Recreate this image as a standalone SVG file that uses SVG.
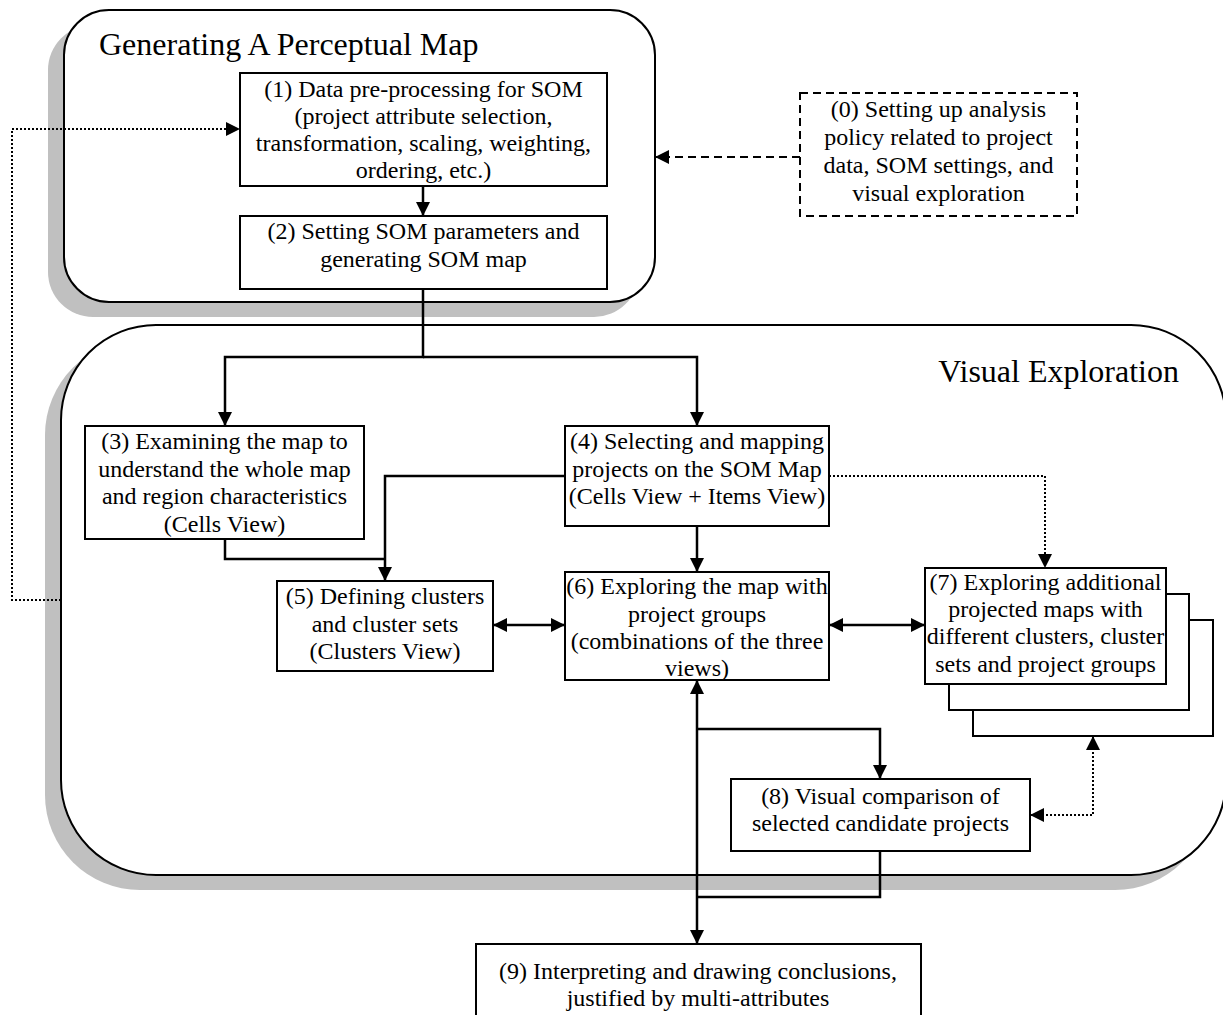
<svg xmlns="http://www.w3.org/2000/svg" width="1223" height="1015" viewBox="0 0 1223 1015">
<defs>
<marker id="ah" markerUnits="userSpaceOnUse" markerWidth="15" markerHeight="14" refX="14" refY="7" orient="auto-start-reverse" viewBox="0 0 15 14"><path d="M0,0 L14,7 L0,14 z" fill="#000"/></marker>
</defs>
<style>
.panel{fill:#fff;stroke:#000;stroke-width:2}
.shadow{fill:#c0c0c0}
.box{fill:#fff;stroke:#000;stroke-width:2}
.dbox{fill:#fff;stroke:#000;stroke-width:2;stroke-dasharray:8 5}
.t{font-family:"Liberation Serif","Times New Roman",serif;font-size:24px;text-anchor:middle;fill:#000}
.title{font-family:"Liberation Serif","Times New Roman",serif;font-size:32px;fill:#000}
.c{fill:none;stroke:#000;stroke-width:2.5}
.dot{fill:none;stroke:#000;stroke-width:2;stroke-dasharray:2 2}
.dash{fill:none;stroke:#000;stroke-width:2;stroke-dasharray:8 5}
</style>
<rect width="1223" height="1015" fill="#fff"/>

<g id="panel-generating">
<rect class="shadow" x="48" y="25" width="591" height="292" rx="45"/>
<rect class="panel" x="64" y="10" width="591" height="292" rx="45"/>
<text class="title" x="99" y="55">Generating A Perceptual Map</text>
</g>

<g id="panel-visual">
<rect class="shadow" x="45" y="340" width="1165" height="550" rx="95"/>
<rect class="panel" x="61" y="325" width="1165" height="550" rx="95"/>
<text class="title" x="1179" y="382" text-anchor="end">Visual Exploration</text>
</g>

<g id="node0">
<rect class="dbox" x="800" y="93" width="277" height="123"/>
<text class="t" x="938.5" y="117">(0) Setting up analysis</text>
<text class="t" x="938.5" y="145">policy related to project</text>
<text class="t" x="938.5" y="173">data, SOM settings, and</text>
<text class="t" x="938.5" y="201">visual exploration</text>
</g>

<g id="node1">
<rect class="box" x="240" y="73" width="367" height="113"/>
<text class="t" x="423.5" y="97">(1) Data pre-processing for SOM</text>
<text class="t" x="423.5" y="124">(project attribute selection,</text>
<text class="t" x="423.5" y="151">transformation, scaling, weighting,</text>
<text class="t" x="423.5" y="178">ordering, etc.)</text>
</g>

<g id="node2">
<rect class="box" x="240" y="216" width="367" height="73"/>
<text class="t" x="423.5" y="239">(2) Setting SOM parameters and</text>
<text class="t" x="423.5" y="267">generating SOM map</text>
</g>

<g id="node3">
<rect class="box" x="85" y="426" width="279" height="113"/>
<text class="t" x="224.5" y="449">(3) Examining the map to</text>
<text class="t" x="224.5" y="477">understand the whole map</text>
<text class="t" x="224.5" y="504">and region characteristics</text>
<text class="t" x="224.5" y="532">(Cells View)</text>
</g>

<g id="node4">
<rect class="box" x="565" y="426" width="264" height="100"/>
<text class="t" x="697" y="449">(4) Selecting and mapping</text>
<text class="t" x="697" y="477">projects on the SOM Map</text>
<text class="t" x="697" y="504">(Cells View + Items View)</text>
</g>

<g id="node5">
<rect class="box" x="277" y="581" width="216" height="90"/>
<text class="t" x="385" y="604">(5) Defining clusters</text>
<text class="t" x="385" y="632">and cluster sets</text>
<text class="t" x="385" y="659">(Clusters View)</text>
</g>

<g id="node6">
<rect class="box" x="565" y="572" width="264" height="108"/>
<text class="t" x="697" y="594">(6) Exploring the map with</text>
<text class="t" x="697" y="622">project groups</text>
<text class="t" x="697" y="649">(combinations of the three</text>
<text class="t" x="697" y="676">views)</text>
</g>

<g id="node7">
<rect class="box" x="973" y="620" width="240" height="116"/>
<rect class="box" x="949" y="594" width="240" height="116"/>
<rect class="box" x="925" y="568" width="241" height="116"/>
<text class="t" x="1045.5" y="590">(7) Exploring additional</text>
<text class="t" x="1045.5" y="617">projected maps with</text>
<text class="t" x="1045.5" y="644">different clusters, cluster</text>
<text class="t" x="1045.5" y="672">sets and project groups</text>
</g>

<g id="node8">
<rect class="box" x="731" y="779" width="299" height="72"/>
<text class="t" x="880.5" y="804">(8) Visual comparison of</text>
<text class="t" x="880.5" y="831">selected candidate projects</text>
</g>

<g id="node9">
<rect class="box" x="476" y="944" width="445" height="80"/>
<text class="t" x="698" y="979">(9) Interpreting and drawing conclusions,</text>
<text class="t" x="698" y="1006">justified by multi-attributes</text>
</g>

<g id="connectors">
<path class="c" d="M423,186 V216" marker-end="url(#ah)"/>
<path class="dash" d="M800,157 H655" marker-end="url(#ah)"/>
<path class="dot" d="M61,600 H12 V129 H240" marker-end="url(#ah)"/>
<path class="c" d="M423,289 V357 H225 V426" marker-end="url(#ah)"/>
<path class="c" d="M423,357 H697 V426" marker-end="url(#ah)"/>
<path class="c" d="M225,539 V559 H385"/>
<path class="c" d="M565,476 H385 V581" marker-end="url(#ah)"/>
<path class="c" d="M697,526 V572" marker-end="url(#ah)"/>
<path class="c" d="M493,625 H565" marker-start="url(#ah)" marker-end="url(#ah)"/>
<path class="c" d="M829,625 H925" marker-start="url(#ah)" marker-end="url(#ah)"/>
<path class="dot" d="M829,476 H1045 V568" marker-end="url(#ah)"/>
<path class="dot" d="M1093,736 V815 H1030" marker-start="url(#ah)" marker-end="url(#ah)"/>
<path class="c" d="M697,680 V944" marker-start="url(#ah)" marker-end="url(#ah)"/>
<path class="c" d="M697,729 H880 V779" marker-end="url(#ah)"/>
<path class="c" d="M880,851 V897 H697"/>
</g>
</svg>
